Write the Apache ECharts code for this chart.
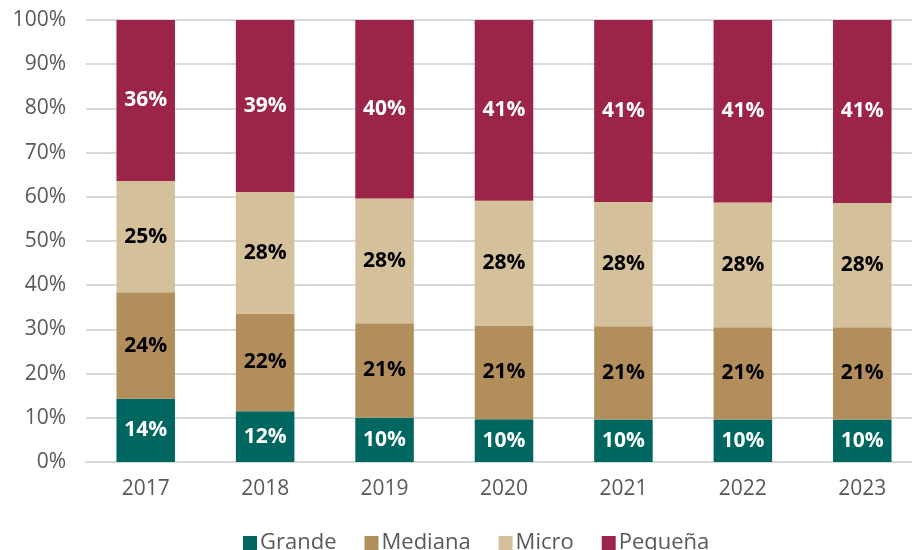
<!DOCTYPE html>
<html lang="es">
<head>
    <meta charset="UTF-8">
    <title>Distribución por tamaño</title>
    <script src="https://cdn.jsdelivr.net/npm/echarts@6/dist/echarts.min.js"></script>
    <style>
        body{
            margin: 0;
            background: #fff;
        }
        #chart{
            width: 912px;
            height: 550px;
        }
    </style>
</head>
<body>
    <div id="chart"></div>
    <script>
        // datos (porcentaje de cada año)
        var years = ['2017', '2018', '2019', '2020', '2021', '2022', '2023'];
        var grande  = [14.3, 11.5, 10.0, 9.7, 9.6, 9.6, 9.6];
        var mediana = [24.1, 22.1, 21.4, 21.2, 21.1, 20.9, 20.9];
        var micro   = [25.2, 27.5, 28.2, 28.2, 28.1, 28.2, 28.1];
        var pequena = [36.4, 38.9, 40.4, 40.9, 41.2, 41.3, 41.4];

        var font = 'Open Sans';
        var gris = '#595959';

        function serie(name, data, color, textColor){
            return {
                name: name,
                type: 'bar',
                stack: 'total',
                barWidth: '49%',
                data: data,
                itemStyle: { color: color },
                label: {
                    show: true,
                    position: 'inside',
                    color: textColor,
                    fontFamily: font,
                    fontWeight: 'bold',
                    fontSize: 21,
                    formatter: function(p){ return Math.round(p.value) + '%'; }
                }
            };
        }

        var myChart = echarts.init(document.getElementById('chart'));
        var option = {
            animation: false,
            grid: {
                left: 86,
                right: -10,
                top: 20,
                bottom: 88,
                outerBoundsMode: 'none'
            },
            legend: {
                top: 527,
                left: 238,
                icon: 'rect',
                itemWidth: 14,
                itemHeight: 14,
                itemGap: 28,
                textStyle: {
                    color: gris,
                    fontFamily: font,
                    fontSize: 22,
                    padding: [0, 0, 0, -2]
                },
                data: ['Grande', 'Mediana', 'Micro', 'Pequeña']
            },
            xAxis: {
                type: 'category',
                data: years,
                axisTick: { show: false },
                axisLine: { lineStyle: { color: '#d9d9d9', width: 2 } },
                axisLabel: {
                    color: gris,
                    fontFamily: font,
                    fontSize: 21,
                    margin: 17
                }
            },
            yAxis: {
                type: 'value',
                min: 0,
                max: 100,
                interval: 10,
                axisLine: { show: false },
                axisTick: { show: false },
                splitLine: { lineStyle: { color: '#d9d9d9', width: 2 } },
                axisLabel: {
                    color: gris,
                    fontFamily: font,
                    fontSize: 21,
                    margin: 20,
                    formatter: '{value}%'
                }
            },
            series: [
                serie('Grande', grande, '#006660', '#ffffff'),
                serie('Mediana', mediana, '#b38e5d', '#000000'),
                serie('Micro', micro, '#d4c19c', '#000000'),
                serie('Pequeña', pequena, '#9d2449', '#ffffff')
            ]
        };
        myChart.setOption(option);
    </script>
</body>
</html>
